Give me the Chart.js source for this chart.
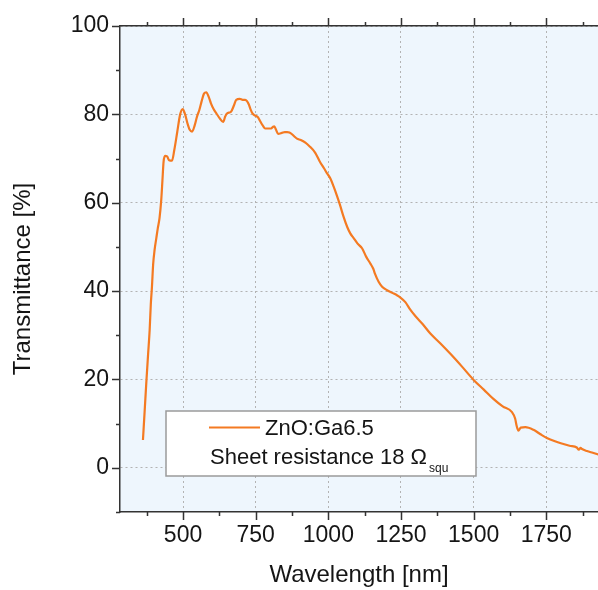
<!DOCTYPE html>
<html>
<head>
<meta charset="utf-8">
<script src="https://cdn.jsdelivr.net/npm/chart.js@4.4.1/dist/chart.umd.min.js"></script>
<style>
  html, body { margin: 0; padding: 0; background: #ffffff; }
  #wrap { width: 598px; height: 590px; position: relative; }
</style>
</head>
<body>
<div id="wrap"><canvas id="c" width="598" height="590"></canvas></div>
<script>
// ---- Data ----
const seriesLabel = 'ZnO:Ga6.5';
const legendNote = 'Sheet resistance 18 \u03A9';
const legendNoteSub = 'squ';
const xTitle = 'Wavelength [nm]';
const yTitle = 'Transmittance [%]';

const wavelength = [
  362, 368, 374, 380, 385, 389, 393, 397, 402, 408, 413, 419, 425, 429, 433, 438, 445, 452, 462, 470,
  480, 490, 499, 507, 515, 523, 531, 540, 548, 556, 564, 572, 580, 588, 596, 605, 615, 625, 638, 645,
  651, 665, 675, 683, 695, 705, 714, 720, 726, 733, 739, 748, 757, 765, 774, 783, 795, 803, 810, 814,
  820, 827, 840, 850, 858, 866, 875, 883, 892, 905, 921, 935, 955, 970, 985, 995, 1007, 1018, 1030, 1040,
  1052, 1065, 1076, 1087, 1100, 1116, 1130, 1144, 1155, 1160, 1173, 1185, 1202, 1220, 1235, 1247, 1265, 1282, 1300, 1325,
  1351, 1385, 1420, 1460, 1500, 1535, 1568, 1600, 1632, 1643, 1648, 1654, 1662, 1678, 1706, 1730, 1752, 1780, 1809, 1830,
  1855, 1862, 1868, 1873, 1890, 1910, 1930
];
const transmittance = [
  6.3, 13, 19.8, 26, 31.1, 37, 41, 46, 49.3, 52, 54.2, 56.5, 60.7, 65, 69.3, 70.6, 70.5, 69.6, 69.5, 72,
  76, 80, 81.2, 80, 78, 76.5, 76.1, 77.5, 79.5, 81, 83, 84.7, 85.0, 84, 82.5, 81.2, 80.2, 79.2, 78.3, 79.5,
  80.2, 80.6, 82, 83.3, 83.5, 83.3, 83.3, 83, 82.3, 81, 80.2, 79.7, 79.4, 78.5, 77.5, 76.8, 76.8, 76.8, 77.2, 77.3,
  76.5, 75.6, 75.8, 76.0, 76.0, 75.9, 75.5, 75.0, 74.5, 74.2, 73.6, 72.8, 71.3, 69.4, 67.8, 66.7, 65.5, 63.7, 61.5, 59.5,
  56.9, 54.5, 53, 52, 50.8, 49.7, 47.8, 46.3, 45, 44, 42.1, 41, 40.2, 39.6, 39.1, 38.6, 37.5, 35.8, 34.3, 32.5,
  30.4, 28.2, 25.8, 22.9, 19.9, 17.7, 15.6, 13.9, 12.6, 11.1, 9.5, 8.4, 9.1, 9.2, 8.6, 7.6, 6.75, 6, 5.4, 5,
  4.6, 4.1, 4.5, 4.25, 3.8, 3.4, 3.0
];

const xTickLabels = [500, 750, 1000, 1250, 1500, 1750];
const yTickLabels = [0, 20, 40, 60, 80, 100];
const xMinorTicks = [375, 625, 875, 1125, 1375, 1625, 1875];
const yMinorTicks = [-10, 10, 30, 50, 70, 90];
const xRange = [283, 1928];
const yRange = [-10, 100];

// ---- Styles ----
const FONT = "'Liberation Sans', Arial, 'DejaVu Sans', sans-serif";
const LINE_COLOR = '#f47a22';
const AXIS_COLOR = '#333333';
const GRID_COLOR = '#b3b3b3';
const PLOT_BG = '#eef6fd';
const TEXT_COLOR = '#151515';

const points = wavelength.map((w, i) => ({ x: w, y: transmittance[i] }));

const plotBg = {
  id: 'plotBg',
  beforeDraw(chart) {
    const { ctx, chartArea: a } = chart;
    ctx.save();
    ctx.fillStyle = PLOT_BG;
    ctx.fillRect(a.left, a.top, a.right - a.left, a.bottom - a.top);
    ctx.restore();
  }
};

const tickMarks = {
  id: 'tickMarks',
  afterDraw(chart) {
    const { ctx, chartArea: a, scales } = chart;
    const xs = scales.x, ys = scales.y;
    ctx.save();
    ctx.strokeStyle = AXIS_COLOR;
    ctx.lineWidth = 1.5;
    ctx.beginPath();
    const drawX = (v, len) => {
      const px = Math.round(xs.getPixelForValue(v)) + 0.5;
      ctx.moveTo(px, a.bottom); ctx.lineTo(px, a.bottom + len);
      ctx.moveTo(px, a.top); ctx.lineTo(px, a.top - len);
    };
    xTickLabels.forEach(v => drawX(v, 8));
    xMinorTicks.forEach(v => drawX(v, 4));
    const drawY = (v, len) => {
      const py = Math.round(ys.getPixelForValue(v)) + 0.5;
      ctx.moveTo(a.left, py); ctx.lineTo(a.left - len, py);
    };
    yTickLabels.forEach(v => drawY(v, 8));
    yMinorTicks.forEach(v => drawY(v, 4));
    ctx.stroke();

    // y-axis title (placed as in the reference, slightly below the plot centre)
    ctx.save();
    ctx.translate(23, a.top + (a.bottom - a.top) / 2 + 10);
    ctx.rotate(-Math.PI / 2);
    ctx.fillStyle = TEXT_COLOR;
    ctx.font = '24px ' + FONT;
    ctx.textAlign = 'center';
    ctx.textBaseline = 'middle';
    ctx.fillText(yTitle, 0, 0);
    ctx.restore();
    ctx.restore();
  }
};

const legendBox = {
  id: 'legendBox',
  afterDraw(chart) {
    const { ctx } = chart;
    const ds = chart.data.datasets[0];
    const bx = 166, by = 411, bw = 310, bh = 65;
    ctx.save();
    ctx.fillStyle = '#ffffff';
    ctx.fillRect(bx, by, bw, bh);
    ctx.strokeStyle = '#9a9a9a';
    ctx.lineWidth = 1.5;
    ctx.strokeRect(bx, by, bw, bh);
    ctx.strokeStyle = ds.borderColor;
    ctx.lineWidth = 2.2;
    ctx.beginPath();
    ctx.moveTo(209, 427.5); ctx.lineTo(260, 427.5);
    ctx.stroke();
    ctx.fillStyle = TEXT_COLOR;
    ctx.textBaseline = 'alphabetic';
    ctx.textAlign = 'left';
    ctx.font = '22px ' + FONT;
    ctx.fillText(ds.label, 265, 435);
    ctx.fillText(legendNote, 210, 464);
    const w = ctx.measureText(legendNote).width;
    ctx.font = '12px ' + FONT;
    ctx.fillText(legendNoteSub, 210 + w + 2, 472);
    ctx.restore();
  }
};

new Chart(document.getElementById('c'), {
  type: 'line',
  data: {
    datasets: [{
      label: seriesLabel,
      data: points,
      borderColor: LINE_COLOR,
      backgroundColor: LINE_COLOR,
      borderWidth: 2.2,
      pointRadius: 0,
      cubicInterpolationMode: 'monotone',
      fill: false
    }]
  },
  options: {
    responsive: false,
    animation: false,
    devicePixelRatio: 1,
    layout: { padding: 0 },
    plugins: { legend: { display: false }, tooltip: { enabled: false } },
    scales: {
      x: {
        type: 'linear',
        position: 'bottom',
        min: xRange[0], max: xRange[1],
        afterBuildTicks: s => { s.ticks = xTickLabels.map(v => ({ value: v })); },
        afterFit: s => { s.height = 78; s.paddingLeft = 0; s.paddingRight = 0; },
        grid: { color: GRID_COLOR, lineWidth: 1, drawTicks: false },
        border: { display: true, color: AXIS_COLOR, width: 1.5, dash: [2, 3] },
        ticks: { color: TEXT_COLOR, font: { family: FONT, size: 23 }, padding: 10, maxRotation: 0,
                 callback: v => String(v) },
        title: { display: true, text: xTitle, color: TEXT_COLOR, font: { family: FONT, size: 24 }, padding: { top: 0, bottom: 0 } }
      },
      x2: {
        type: 'linear',
        position: 'top',
        min: xRange[0], max: xRange[1],
        afterFit: s => { s.height = 26; s.paddingLeft = 0; s.paddingRight = 0; },
        grid: { display: false, drawTicks: false },
        border: { display: true, color: AXIS_COLOR, width: 1.5 },
        ticks: { display: false }
      },
      y: {
        type: 'linear',
        position: 'left',
        min: yRange[0], max: yRange[1],
        afterBuildTicks: s => { s.ticks = yTickLabels.map(v => ({ value: v })); },
        afterFit: s => { s.width = 120; s.paddingTop = 0; s.paddingBottom = 0; },
        grid: { color: GRID_COLOR, lineWidth: 1, drawTicks: false },
        border: { display: true, color: AXIS_COLOR, width: 1.5, dash: [2, 3] },
        ticks: { color: TEXT_COLOR, font: { family: FONT, size: 23 }, padding: 11,
                 callback: v => String(v) },
        title: { display: false }
      }
    }
  },
  plugins: [plotBg, tickMarks, legendBox]
});
</script>
</body>
</html>
